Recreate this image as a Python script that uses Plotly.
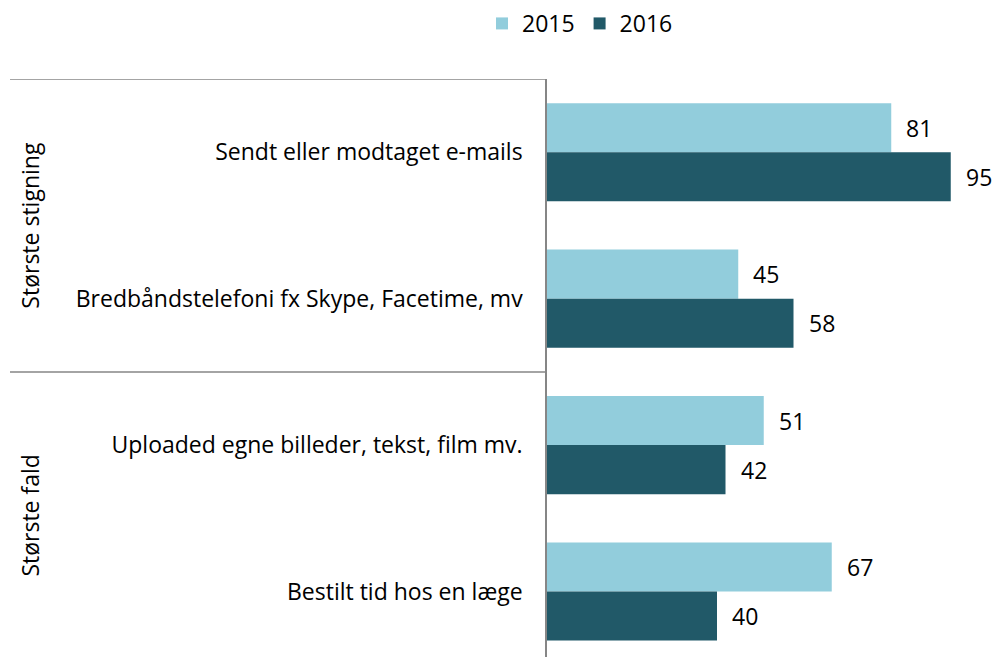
import plotly.graph_objects as go

categories = ["Sendt eller modtaget e-mails",
              "Bredbåndstelefoni fx Skype, Facetime, mv",
              "Uploaded egne billeder, tekst, film mv.",
              "Bestilt tid hos en læge"]
values_2015 = [81, 45, 51, 67]
values_2016 = [95, 58, 42, 40]
groups = ["Største stigning", "Største fald"]
group_centers = [0.5, 2.48]
group_bounds = [-0.5, 1.5]

FONT = "Open Sans"
FS = 23
C15 = "#92CDDC"
C16 = "#215968"
LINE = "#868686"

pos = list(range(len(categories)))

fig = go.Figure()
fig.add_trace(go.Bar(y=pos, x=values_2015, orientation="h", name="2015",
                     marker=dict(color=C15, line=dict(width=0))))
fig.add_trace(go.Bar(y=pos, x=values_2016, orientation="h", name="2016",
                     marker=dict(color=C16, line=dict(width=0))))

annotations = []
bw = (1 - 0.33) / 2
for i, (a, b) in enumerate(zip(values_2015, values_2016)):
    annotations.append(dict(x=a, y=i - bw / 2, xref="x", yref="y", text=str(a),
                            showarrow=False, xanchor="left", xshift=13,
                            font=dict(family=FONT, size=FS, color="#000")))
    annotations.append(dict(x=b, y=i + bw / 2, xref="x", yref="y", text=str(b),
                            showarrow=False, xanchor="left", xshift=13,
                            font=dict(family=FONT, size=FS, color="#000")))

for g, c in zip(groups, group_centers):
    annotations.append(dict(x=-1.216, y=c, xref="paper", yref="y", text=g,
                            showarrow=False, textangle=-90, xanchor="center",
                            yanchor="middle",
                            font=dict(family=FONT, size=FS, color="#000")))

shapes = []
for yb in group_bounds:
    shapes.append(dict(type="line", xref="paper", yref="y", x0=-1.2635, x1=0,
                       y0=yb, y1=yb, line=dict(color=LINE, width=1.5)))

fig.update_layout(
    width=995, height=657,
    margin=dict(l=547, r=23, t=79, b=0),
    paper_bgcolor="white", plot_bgcolor="white",
    barmode="group", bargap=0.33, bargroupgap=0,
    font=dict(family=FONT, size=FS, color="#000"),
    showlegend=True,
    legend=dict(orientation="h", x=-0.153, xanchor="left",
                yref="container", y=0.997, yanchor="top",
                font=dict(family=FONT, size=FS, color="#000"),
                itemwidth=30, traceorder="normal"),
    annotations=annotations,
    shapes=shapes,
)
fig.update_xaxes(range=[0, 100], visible=False, showgrid=False, zeroline=False)
fig.update_yaxes(range=[3.447, -0.5], tickvals=pos, ticktext=categories,
                 showline=True, linecolor=LINE, linewidth=1.5, showgrid=False,
                 zeroline=False, ticks="", ticklabelstandoff=18,
                 tickfont=dict(family=FONT, size=FS, color="#000"))

fig.write_html("out.html", config={"displayModeBar": False},
               post_script="document.body.style.margin='0';document.body.style.overflow='hidden';")
